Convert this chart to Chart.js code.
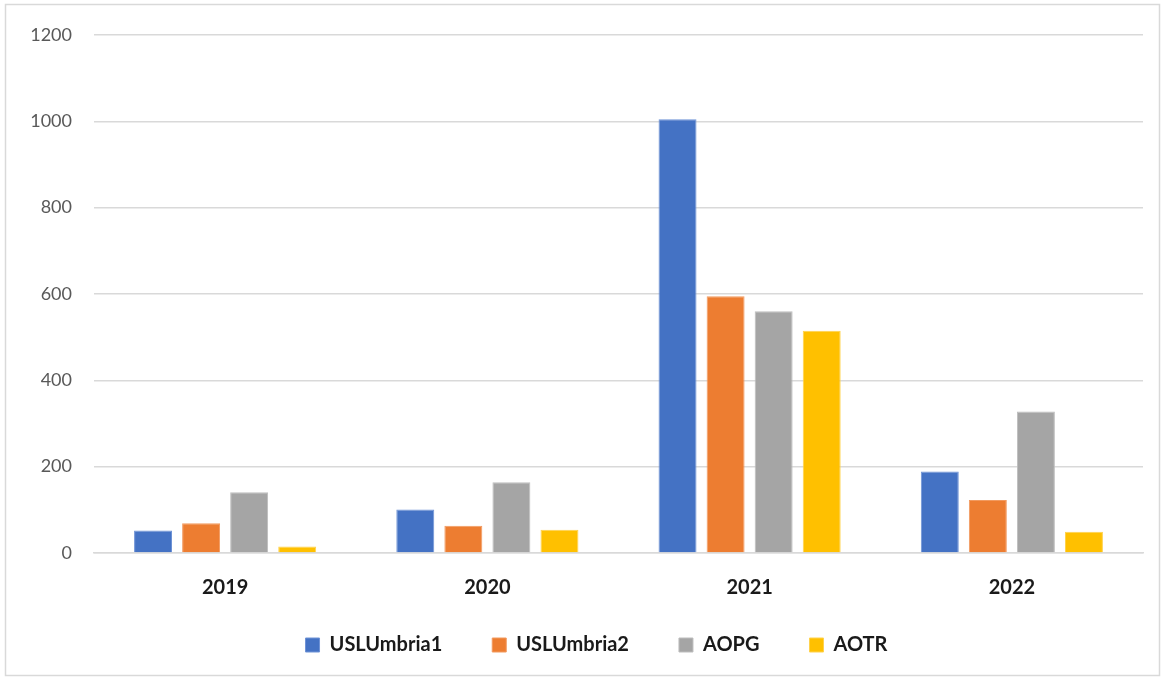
<!DOCTYPE html>
<html>
<head>
<meta charset="utf-8">
<script src="https://cdn.jsdelivr.net/npm/chart.js@4/dist/chart.umd.min.js"></script>
<style>
  html, body { margin: 0; padding: 0; background: #ffffff; }
  #wrap { width: 1164px; height: 680px; position: relative; }
</style>
</head>
<body>
<div id="wrap"><canvas id="c" width="1164" height="680"></canvas></div>
<script>
// Categories (years) and one value list per organisation
const years = ['2019', '2020', '2021', '2022'];
const uslUmbria1 = [52, 101, 1005, 189];
const uslUmbria2 = [69, 63, 595, 123];
const aopg = [141, 164, 560, 328];
const aotr = [15, 54, 515, 49];

const seriesNames = ['USLUmbria1', 'USLUmbria2', 'AOPG', 'AOTR'];
const seriesColors = ['#4472C4', '#ED7D31', '#A5A5A5', '#FFC000'];
const seriesBorders = ['#6f93d6', '#f29a5f', '#bdbdbd', '#ffd24d'];
const seriesValues = [uslUmbria1, uslUmbria2, aopg, aotr];

const yTicks = [0, 200, 400, 600, 800, 1000, 1200];

const FONT = 'Lato, "Open Sans", "Liberation Sans", sans-serif';

// White background and thin light-grey frame round the whole chart
const frame = {
  id: 'frame',
  beforeDraw(chart) {
    const ctx = chart.ctx;
    ctx.save();
    ctx.fillStyle = '#ffffff';
    ctx.fillRect(0, 0, chart.width, chart.height);
    ctx.strokeStyle = '#d9d9d9';
    ctx.lineWidth = 1.5;
    ctx.strokeRect(5.5, 4.5, chart.width - 10, chart.height - 9);
    ctx.restore();
  }
};

// Wide spacing between legend items without a tall legend box;
// the legend row is shifted slightly right and up when drawn
const legendFit = {
  id: 'legendFit',
  beforeInit(chart) {
    const lg = chart.legend;
    if (!lg) return;
    const origFit = lg.fit.bind(lg);
    lg.fit = function () {
      origFit();
      this.height = 80;
    };
    const origDraw = lg.draw.bind(lg);
    lg.draw = function () {
      const ctx = this.ctx;
      ctx.save();
      ctx.translate(25, -15);
      origDraw();
      ctx.restore();
    };
  }
};

const datasets = seriesNames.map((name, i) => ({
  label: name,
  data: seriesValues[i],
  backgroundColor: seriesColors[i],
  borderColor: seriesBorders[i],
  borderWidth: 1,
  categoryPercentage: 0.733,
  barPercentage: 0.79
}));

new Chart(document.getElementById('c'), {
  type: 'bar',
  data: { labels: years, datasets },
  plugins: [frame, legendFit],
  options: {
    responsive: false,
    animation: false,
    layout: { padding: { top: 35, right: 21, left: 0, bottom: 0 } },
    plugins: {
      tooltip: { enabled: false },
      legend: {
        position: 'bottom',
        align: 'center',
        labels: {
          boxWidth: 14,
          boxHeight: 14,
          padding: 50,
          color: '#1a1a1a',
          font: { family: FONT, size: 20, weight: 'bold' }
        }
      }
    },
    scales: {
      x: {
        afterFit(scale) { scale.height = 47; },
        grid: { display: false, drawTicks: false },
        border: { display: true, color: '#d9d9d9', width: 1.5 },
        ticks: {
          padding: 23,
          color: '#1a1a1a',
          font: { family: FONT, size: 20, weight: 'bold' }
        }
      },
      y: {
        min: 0,
        max: 1200,
        afterFit(scale) { scale.width = 94; },
        afterBuildTicks(scale) { scale.ticks = yTicks.map(v => ({ value: v })); },
        border: { display: false },
        grid: { color: '#d9d9d9', lineWidth: 1.5, drawTicks: false },
        ticks: {
          padding: 22,
          color: '#595959',
          font: { family: FONT, size: 18 },
          callback: (v) => String(v)
        }
      }
    }
  }
});
</script>
</body>
</html>
